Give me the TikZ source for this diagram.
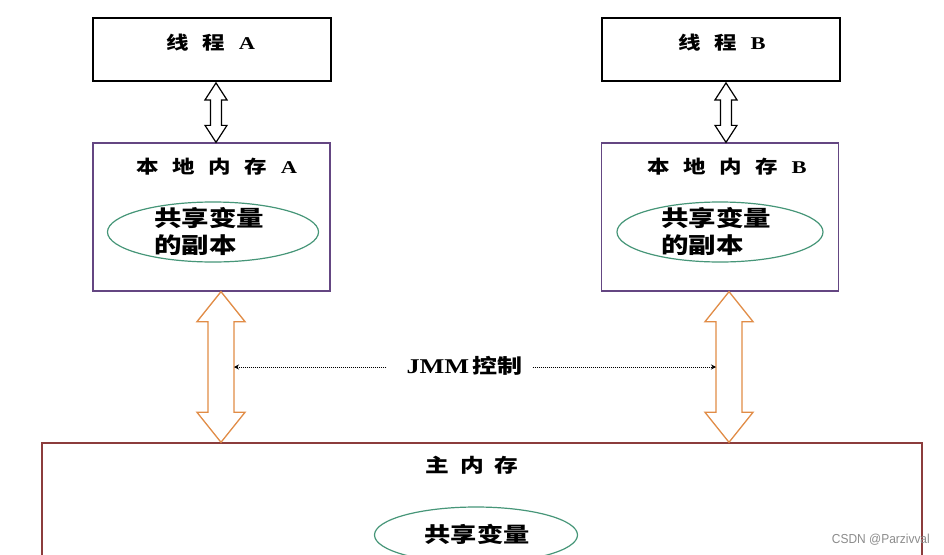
\documentclass[tikz,border=0pt]{standalone}
\usepackage{fontspec}
\setmainfont{Liberation Serif}
\newfontfamily\cjk[FakeStretch=1.25]{Noto Sans CJK SC}
\newfontfamily\lat[FakeStretch=1.25]{Liberation Serif}
\newfontfamily\wmsans[FakeStretch=0.92]{Liberation Sans}
\usetikzlibrary{calc,shapes.geometric,arrows.meta}
\definecolor{boxpurple}{RGB}{100,70,130}
\definecolor{arrorange}{RGB}{225,140,70}
\definecolor{ellgreen}{RGB}{70,150,120}
\definecolor{mainred}{RGB}{140,60,60}
\newcommand{\dblarr}[6]{%
\draw[#1] (#2) -- ($(#2)+(#5,#4)$) -- ($(#2)+(#6,#4)$) -- ($(#3)+(#6,-#4)$) -- ($(#3)+(#5,-#4)$) -- (#3) -- ($(#3)+(-#5,-#4)$) -- ($(#3)+(-#6,-#4)$) -- ($(#2)+(-#6,#4)$) -- ($(#2)+(-#5,#4)$) -- cycle;}
\newcommand{\gp}{\hspace{0.75em}}
\begin{document}
\begin{tikzpicture}[x=1pt,y=-1pt,
  threadbox/.style={draw=black,line width=1.8pt,minimum width=238pt,minimum height=63pt,inner sep=0pt},
  localbox/.style={draw=boxpurple,line width=1.3pt,minimum width=237pt,minimum height=148pt,inner sep=0pt},
  mainbox/.style={draw=mainred,line width=1.4pt,minimum width=880pt,minimum height=160pt,inner sep=0pt},
  ell/.style={draw=ellgreen,line width=1.2pt,ellipse,inner sep=0pt},
  lbl/.style={font=\fontsize{18}{20}\selectfont\bfseries,inner sep=0pt},
  elltxt/.style={font=\cjk\fontsize{22}{27}\selectfont\bfseries,align=left,inner sep=0pt},
  blackarr/.style={draw=black,line width=1.2pt,fill=white},
  orangearr/.style={draw=arrorange,line width=1.3pt,fill=white},
  ctrl/.style={densely dotted,line width=1pt,-{Stealth[length=5pt,width=5pt]}}]
\useasboundingbox (0,0) rectangle (944,554);
\clip (0,0) rectangle (944,554);
\fill[white] (0,0) rectangle (944,554);

% thread boxes
\node[threadbox] (tA) at (212,49.5) {};
\node[threadbox] (tB) at (721,49.5) {};

% local memory boxes
\node[localbox] (lA) at (211.5,217) {};
\node[localbox] (lB) at (720,217) {};

% main memory
\node[mainbox] (mm) at (482,523) {};

% labels
\node[lbl] (tAl) at (211,43) {\cjk 线\gp 程\gp{}\lat A};
\node[lbl] (tBl) at (722,43) {\cjk 线\gp 程\gp{}\lat B};
\node[lbl] (lAl) at (217,167) {\cjk 本\gp 地\gp 内\gp 存\gp{}\lat A};
\node[lbl] (lBl) at (727,167) {\cjk 本\gp 地\gp 内\gp 存\gp{}\lat B};
\node[lbl,font=\fontsize{19}{20}\selectfont\bfseries] (mml) at (472,465) {\cjk 主\hspace{0.55em}内\hspace{0.55em}存};

% ellipses
\node[ell,minimum width=211pt,minimum height=60pt] (eA) at (213,232) {};
\node[elltxt,anchor=west] (eAt) at (154,231) {共享变量\\的副本};
\node[ell,minimum width=206pt,minimum height=60pt] (eB) at (720,232) {};
\node[elltxt,anchor=west] (eBt) at (661,231) {共享变量\\的副本};
\node[ell,minimum width=203pt,minimum height=56pt] (eM) at (476,535) {};
\node[elltxt,font=\cjk\fontsize{21}{25}\selectfont\bfseries] (eMt) at (477,534) {共享变量};

% thread <-> local arrows
\coordinate (bAt) at ($(tA.south)+(4,1)$);
\coordinate (bAb) at (bAt |- lA.north);
\dblarr{blackarr}{bAt}{bAb}{17}{11}{5.5}
\coordinate (bBt) at ($(tB.south)+(5,1)$);
\coordinate (bBb) at (bBt |- lB.north);
\dblarr{blackarr}{bBt}{bBb}{17}{11}{5.5}

% local <-> main arrows
\coordinate (oAt) at ($(lA.south)+(9.5,0)$);
\coordinate (oAb) at (oAt |- mm.north);
\dblarr{orangearr}{oAt}{oAb}{30}{24}{13}
\coordinate (oBt) at ($(lB.south)+(9,0)$);
\coordinate (oBb) at (oBt |- mm.north);
\dblarr{orangearr}{oBt}{oBb}{30}{24}{13}

% JMM control
\node[font=\fontsize{21}{22}\selectfont\bfseries,inner sep=0pt] (jmm) at (464.5,366) {\lat JMM\hspace{0.15em}{\cjk\fontsize{20}{22}\selectfont 控制}};
\coordinate (cA) at ($(oAt)!0.5!(oAb)+(13,0)$);
\coordinate (cB) at ($(oBt)!0.5!(oBb)+(-13,0)$);
\draw[ctrl] ($(jmm.west)+(-20,1)$) -- (cA |- {$(jmm.west)+(0,1)$});
\draw[ctrl] ($(jmm.east)+(10,1)$) -- (cB |- {$(jmm.east)+(0,1)$});

% watermark
\node[font=\wmsans\fontsize{13}{14}\selectfont,text=black!45,inner sep=0pt,anchor=east] (wm) at (930,540) {CSDN @Parzivval};
\end{tikzpicture}
\end{document}
